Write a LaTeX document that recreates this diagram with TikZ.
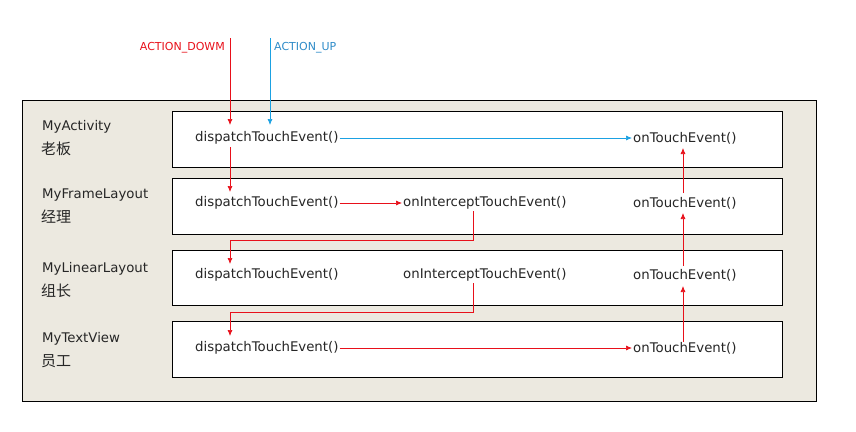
\documentclass[tikz,border=0pt]{standalone}
\usepackage{fontspec}
\setmainfont{DejaVu Sans}
\newfontfamily\cjk{Noto Sans CJK SC}
\usetikzlibrary{arrows.meta}
\definecolor{ared}{HTML}{E8101A}
\definecolor{ablue}{HTML}{1BA1E2}
\definecolor{ltext}{HTML}{2E8BC8}
\definecolor{bg}{HTML}{ECE9E0}
\tikzset{
  txt/.style={font=\fontsize{13.3}{15}\selectfont, inner sep=1pt, anchor=west, text=black!85},
  lbl/.style={font=\fontsize{13.3}{15}\selectfont, inner sep=0pt, anchor=west, align=left, text=black!85},
  cjklbl/.style={font=\cjk\fontsize{15}{17}\selectfont, inner sep=0pt, anchor=west, text=black!85},
  rowbox/.style={draw=black, fill=white, line width=0.8pt},
  redarr/.style={draw=ared, line width=0.7pt, -{Latex[length=6pt,width=5pt]}},
  bluearr/.style={draw=ablue, line width=0.7pt, -{Latex[length=6pt,width=5pt]}},
}
\begin{document}
\begin{tikzpicture}[x=1pt,y=-1pt]
\useasboundingbox (0,0) rectangle (856,431);
\draw[fill=bg, draw=black, line width=0.8pt] (22,100) rectangle (816,401);
\draw[rowbox] (172,111) rectangle (782,167);
\draw[rowbox] (172,178) rectangle (782,234);
\draw[rowbox] (172,250) rectangle (782,305);
\draw[rowbox] (172,321) rectangle (782,377);

\node[lbl] (l1) at (42,127) {MyActivity};
\node[cjklbl] (c1) at (41,149) {老板};
\node[lbl] (l2) at (42,195) {MyFrameLayout};
\node[cjklbl] (c2) at (41,217) {经理};
\node[lbl] (l3) at (42,269) {MyLinearLayout};
\node[cjklbl] (c3) at (41,291) {组长};
\node[lbl] (l4) at (42,339) {MyTextView};
\node[cjklbl] (c4) at (41,361) {员工};

\node[txt] (d1) at (194,138) {dispatchTouchEvent()};
\node[txt] (d2) at (194,203) {dispatchTouchEvent()};
\node[txt] (d3) at (194,275) {dispatchTouchEvent()};
\node[txt] (d4) at (194,348) {dispatchTouchEvent()};
\node[txt] (i2) at (402,203) {onInterceptTouchEvent()};
\node[txt] (i3) at (402,275) {onInterceptTouchEvent()};
\node[txt] (o1) at (632,138) {onTouchEvent()};
\node[txt] (o2) at (632,203) {onTouchEvent()};
\node[txt] (o3) at (632,275) {onTouchEvent()};
\node[txt] (o4) at (632,348) {onTouchEvent()};

\node[font=\fontsize{11}{13}\selectfont, text=ared, anchor=east, inner sep=0pt] (down) at (225,48) {ACTION\_DOWM};
\node[font=\fontsize{11}{13}\selectfont, text=ltext, anchor=west, inner sep=0pt] (up) at (274,48) {ACTION\_UP};

\coordinate (dtop) at (230,38);
\coordinate (utop) at (270,38);
\draw[redarr] (dtop) -- (230,125);
\draw[bluearr] (utop) -- (270,125);
\draw[bluearr] (d1.east) -- (o1.west);
\draw[redarr] (230,147) -- (230,192);
\draw[redarr] (d2.east) -- (i2.west);
\draw[redarr] (473,211) -- (473,240) -- (230,240) -- (230,264);
\draw[redarr] (473,283) -- (473,312) -- (230,312) -- (230,336);
\draw[redarr] (d4.east) -- (o4.west);
\draw[redarr] (683,342) -- (683,286);
\draw[redarr] (683,266) -- (683,213);
\draw[redarr] (683,193) -- (683,148);
\end{tikzpicture}
\end{document}
